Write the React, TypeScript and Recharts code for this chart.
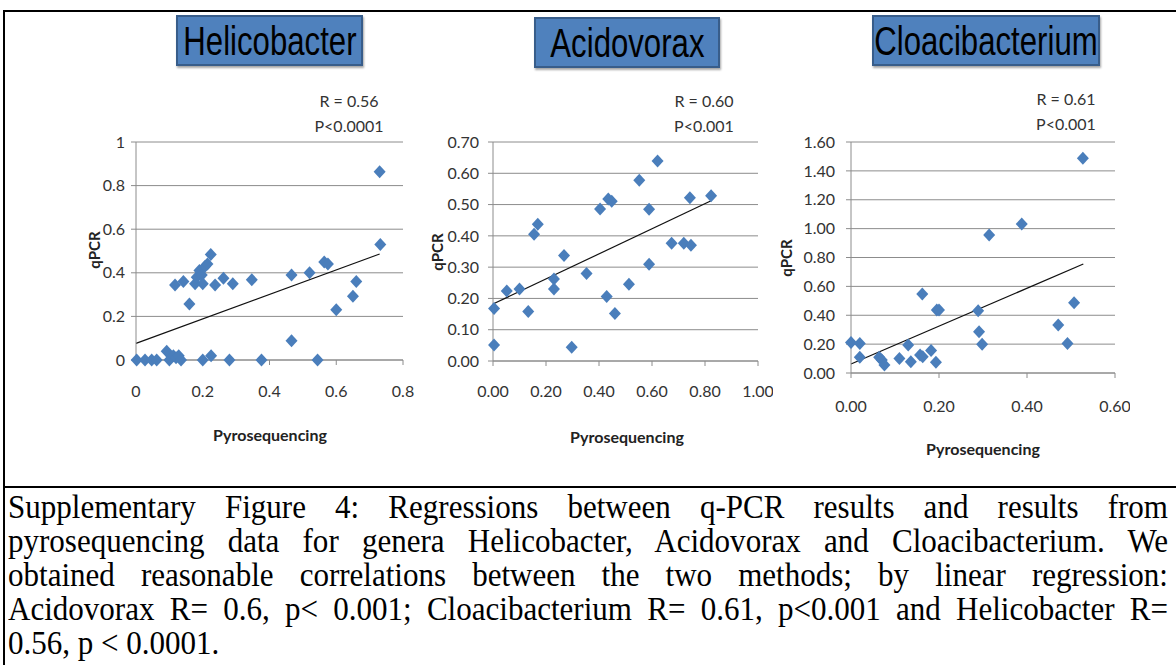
import React from 'react';
import { ScatterChart, Scatter, XAxis, YAxis, CartesianGrid, ReferenceLine } from 'recharts';

// ---------- Data ----------
const helicobacterPoints = [
  { x: 0.002, y: 0 }, { x: 0.027, y: 0 }, { x: 0.047, y: 0 }, { x: 0.062, y: 0 },
  { x: 0.092, y: 0.04 }, { x: 0.1, y: 0 }, { x: 0.112, y: 0.02 }, { x: 0.12, y: 0.01 },
  { x: 0.128, y: 0.02 }, { x: 0.135, y: 0 }, { x: 0.2, y: 0 }, { x: 0.225, y: 0.02 },
  { x: 0.28, y: 0 }, { x: 0.376, y: 0 }, { x: 0.466, y: 0.088 }, { x: 0.544, y: 0 },
  { x: 0.117, y: 0.344 }, { x: 0.142, y: 0.36 }, { x: 0.16, y: 0.257 }, { x: 0.177, y: 0.35 },
  { x: 0.182, y: 0.38 }, { x: 0.19, y: 0.41 }, { x: 0.197, y: 0.39 }, { x: 0.2, y: 0.35 },
  { x: 0.207, y: 0.43 }, { x: 0.214, y: 0.44 }, { x: 0.224, y: 0.484 }, { x: 0.237, y: 0.344 },
  { x: 0.262, y: 0.375 }, { x: 0.29, y: 0.35 }, { x: 0.347, y: 0.368 }, { x: 0.466, y: 0.39 },
  { x: 0.52, y: 0.4 }, { x: 0.564, y: 0.45 }, { x: 0.575, y: 0.44 }, { x: 0.6, y: 0.23 },
  { x: 0.65, y: 0.293 }, { x: 0.66, y: 0.36 }, { x: 0.73, y: 0.864 }, { x: 0.732, y: 0.53 },
];
const helicobacterTrend = [{ x: 0, y: 0.076 }, { x: 0.73, y: 0.486 }];
const helicobacterXTicks = [0, 0.2, 0.4, 0.6, 0.8];
const helicobacterYTicks = [0, 0.2, 0.4, 0.6, 0.8, 1];

const acidovoraxPoints = [
  { x: 0.004, y: 0.168 }, { x: 0.004, y: 0.051 }, { x: 0.052, y: 0.224 }, { x: 0.1, y: 0.23 },
  { x: 0.133, y: 0.158 }, { x: 0.155, y: 0.405 }, { x: 0.169, y: 0.437 }, { x: 0.23, y: 0.262 },
  { x: 0.23, y: 0.23 }, { x: 0.268, y: 0.337 }, { x: 0.297, y: 0.044 }, { x: 0.353, y: 0.28 },
  { x: 0.404, y: 0.486 }, { x: 0.429, y: 0.206 }, { x: 0.435, y: 0.518 }, { x: 0.448, y: 0.511 },
  { x: 0.46, y: 0.152 }, { x: 0.513, y: 0.245 }, { x: 0.552, y: 0.578 }, { x: 0.589, y: 0.485 },
  { x: 0.589, y: 0.309 }, { x: 0.621, y: 0.639 }, { x: 0.674, y: 0.376 }, { x: 0.72, y: 0.376 },
  { x: 0.747, y: 0.37 }, { x: 0.743, y: 0.522 }, { x: 0.823, y: 0.528 },
];
const acidovoraxTrend = [{ x: 0, y: 0.182 }, { x: 0.823, y: 0.512 }];
const acidovoraxXTicks = [0, 0.2, 0.4, 0.6, 0.8, 1.0];
const acidovoraxYTicks = [0, 0.1, 0.2, 0.3, 0.4, 0.5, 0.6, 0.7];

const cloacibacteriumPoints = [
  { x: 0.0, y: 0.212 }, { x: 0.02, y: 0.205 }, { x: 0.02, y: 0.109 }, { x: 0.064, y: 0.109 },
  { x: 0.07, y: 0.09 }, { x: 0.076, y: 0.055 }, { x: 0.11, y: 0.1 }, { x: 0.13, y: 0.194 },
  { x: 0.136, y: 0.078 }, { x: 0.157, y: 0.125 }, { x: 0.163, y: 0.113 }, { x: 0.162, y: 0.547 },
  { x: 0.182, y: 0.155 }, { x: 0.193, y: 0.074 }, { x: 0.195, y: 0.436 }, { x: 0.2, y: 0.436 },
  { x: 0.289, y: 0.431 }, { x: 0.291, y: 0.286 }, { x: 0.298, y: 0.2 }, { x: 0.314, y: 0.955 },
  { x: 0.388, y: 1.032 }, { x: 0.471, y: 0.332 }, { x: 0.492, y: 0.205 }, { x: 0.507, y: 0.487 },
  { x: 0.527, y: 1.488 },
];
const cloacibacteriumTrend = [{ x: 0, y: 0.062 }, { x: 0.528, y: 0.755 }];
const cloacibacteriumXTicks = [0, 0.2, 0.4, 0.6];
const cloacibacteriumYTicks = [0, 0.2, 0.4, 0.6, 0.8, 1.0, 1.2, 1.4, 1.6];

const titles = ['Helicobacter', 'Acidovorax', 'Cloacibacterium'];
const rLabels = ['R = 0.56', 'R = 0.60', 'R = 0.61'];
const pLabels = ['P<0.0001', 'P<0.001', 'P<0.001'];
const captionLines = [
  'Supplementary Figure 4: Regressions between q-PCR results and results from',
  'pyrosequencing data for genera Helicobacter, Acidovorax and Cloacibacterium. We',
  'obtained reasonable correlations between the two methods; by linear regression:',
  'Acidovorax R= 0.6, p< 0.001; Cloacibacterium R= 0.61, p<0.001 and Helicobacter R=',
  '0.56, p < 0.0001.',
];

// ---------- Styles ----------
const MARKER = '#4A7EBB';
const GRID = '#8C8C8C';
const TICK_FONT = 'Lato, "Open Sans", sans-serif';

const Diamond = (props: any) => {
  const { cx, cy } = props;
  if (cx == null || cy == null) return null;
  return (
    <path
      d={`M${cx},${cy - 6.5}L${cx + 6},${cy}L${cx},${cy + 6.5}L${cx - 6},${cy}Z`}
      fill={MARKER}
    />
  );
};

type PanelProps = {
  left: number; top: number;
  x0: number; x1: number; y0: number; y1: number;
  points: { x: number; y: number }[];
  trend: { x: number; y: number }[];
  xTicks: number[]; yTicks: number[];
  fmt: (v: number) => string;
  xLabelOffset: number; yLabelGap: number;
};

const Panel = (p: PanelProps) => {
  const yAxisWidth = p.x0 - p.left;
  const xAxisHeight = 50;
  const W = p.x1 - p.left + 15;
  const H = p.y1 - p.top + xAxisHeight;
  const xs = p.xTicks;
  const ys = p.yTicks;
  return (
    <div style={{ position: 'absolute', left: p.left, top: p.top }}>
      <ScatterChart
        width={W}
        height={H}
        margin={{ top: p.y0 - p.top, right: 15, left: 0, bottom: 0 }}
      >
        <CartesianGrid horizontal={true} vertical={false} stroke={GRID} />
        <XAxis
          type="number"
          dataKey="x"
          domain={[xs[0], xs[xs.length - 1]]}
          ticks={xs}
          interval={0}
          height={xAxisHeight}
          stroke={GRID}
          tickSize={5}
          tickMargin={p.xLabelOffset}
          tickFormatter={p.fmt}
          tick={{ fill: '#333', fontSize: 16, fontFamily: TICK_FONT }}
        />
        <YAxis
          type="number"
          dataKey="y"
          domain={[ys[0], ys[ys.length - 1]]}
          ticks={ys}
          interval={0}
          width={yAxisWidth}
          stroke={GRID}
          tickSize={5}
          tickMargin={p.yLabelGap}
          tickFormatter={p.fmt}
          tick={{ fill: '#333', fontSize: 16, fontFamily: TICK_FONT }}
        />
        <Scatter data={p.points} shape={Diamond} isAnimationActive={false} />
        <ReferenceLine
          segment={[p.trend[0], p.trend[1]]}
          stroke="#111"
          strokeWidth={1.2}
          ifOverflow="visible"
        />
      </ScatterChart>
    </div>
  );
};

const fmt1 = (v: number) => (Number.isInteger(v) ? String(v) : v.toFixed(1));
const fmt2 = (v: number) => v.toFixed(2);

const abs = (l: number, t: number, extra: React.CSSProperties = {}): React.CSSProperties => ({
  position: 'absolute', left: l, top: t, transform: 'translate(-50%, -50%)', whiteSpace: 'nowrap', ...extra,
});

const statStyle: React.CSSProperties = { fontFamily: TICK_FONT, fontSize: 16, color: '#333' };
const axisTitleStyle: React.CSSProperties = { fontFamily: TICK_FONT, fontSize: 16, fontWeight: 700, color: '#222' };
const rot: React.CSSProperties = { ...axisTitleStyle, fontSize: 15, transform: 'translate(-50%, -50%) rotate(-90deg)' };

const TitleBox = ({ cx, top, w, text }: { cx: number; top: number; w: number; text: string }) => (
  <div
    style={{
      position: 'absolute', left: cx - w / 2, top, width: w, height: 51,
      background: '#4F81BD', border: '2px solid #385D8A', boxSizing: 'border-box',
      boxShadow: '1px 2px 2px rgba(0,0,0,0.35)',
      display: 'flex', alignItems: 'center', justifyContent: 'center', overflow: 'visible',
    }}
  >
    <span
      style={{
        display: 'inline-block', fontFamily: '"Liberation Sans", Arial, sans-serif', fontSize: 41,
        color: '#000', transform: 'scaleX(0.76)', whiteSpace: 'nowrap', lineHeight: '46px',
      }}
    >
      {text}
    </span>
  </div>
);

const CAPTION_SCALE = 0.94;

export default function App() {
  return (
    <div style={{ position: 'absolute', left: 0, top: 0, width: 1176, height: 665, background: '#fff', overflow: 'hidden' }}>
      {/* frame */}
      <div style={{ position: 'absolute', left: 3, top: 10, width: 1180, height: 2, background: '#000' }} />
      <div style={{ position: 'absolute', left: 3, top: 10, width: 2, height: 700, background: '#000' }} />
      <div style={{ position: 'absolute', left: 3, top: 486, width: 1180, height: 2, background: '#000' }} />

      <Panel left={60} top={80} x0={136} x1={403} y0={142} y1={360}
        points={helicobacterPoints} trend={helicobacterTrend}
        xTicks={helicobacterXTicks} yTicks={helicobacterYTicks} fmt={fmt1}
        xLabelOffset={21} yLabelGap={6} />
      <Panel left={420} top={80} x0={493} x1={758} y0={142} y1={361}
        points={acidovoraxPoints} trend={acidovoraxTrend}
        xTicks={acidovoraxXTicks} yTicks={acidovoraxYTicks} fmt={fmt2}
        xLabelOffset={20} yLabelGap={9} />
      <Panel left={790} top={80} x0={851} x1={1115} y0={142} y1={373}
        points={cloacibacteriumPoints} trend={cloacibacteriumTrend}
        xTicks={cloacibacteriumXTicks} yTicks={cloacibacteriumYTicks} fmt={fmt2}
        xLabelOffset={23} yLabelGap={11} />

      <TitleBox cx={269.5} top={15} w={187} text={titles[0]} />
      <TitleBox cx={627} top={17} w={186} text={titles[1]} />
      <TitleBox cx={986} top={15} w={228} text={titles[2]} />

      <div style={abs(349, 100, statStyle)}>{rLabels[0]}</div>
      <div style={abs(349, 125, statStyle)}>{pLabels[0]}</div>
      <div style={abs(704, 100, statStyle)}>{rLabels[1]}</div>
      <div style={abs(704, 125, statStyle)}>{pLabels[1]}</div>
      <div style={abs(1066, 98, statStyle)}>{rLabels[2]}</div>
      <div style={abs(1066, 123, statStyle)}>{pLabels[2]}</div>

      <div style={abs(94, 250, rot)}>qPCR</div>
      <div style={abs(437, 252, rot)}>qPCR</div>
      <div style={abs(786, 258, rot)}>qPCR</div>

      <div style={abs(270, 434, axisTitleStyle)}>Pyrosequencing</div>
      <div style={abs(627, 436, axisTitleStyle)}>Pyrosequencing</div>
      <div style={abs(983, 448, axisTitleStyle)}>Pyrosequencing</div>

      <div style={{ position: 'absolute', left: 8, top: 490, width: 1160, fontFamily: '"Liberation Serif", "Times New Roman", serif', fontSize: 33, lineHeight: '34px', color: '#000' }}>
        {captionLines.map((line, i) => {
          const last = i === captionLines.length - 1;
          return (
            <div
              key={i}
              style={{
                width: 1160 / CAPTION_SCALE,
                transform: `scaleX(${CAPTION_SCALE})`,
                transformOrigin: 'left center',
                textAlign: last ? 'left' : 'justify',
                textAlignLast: last ? 'left' : 'justify',
                whiteSpace: 'nowrap',
              }}
            >
              {line}
            </div>
          );
        })}
      </div>
    </div>
  );
}
